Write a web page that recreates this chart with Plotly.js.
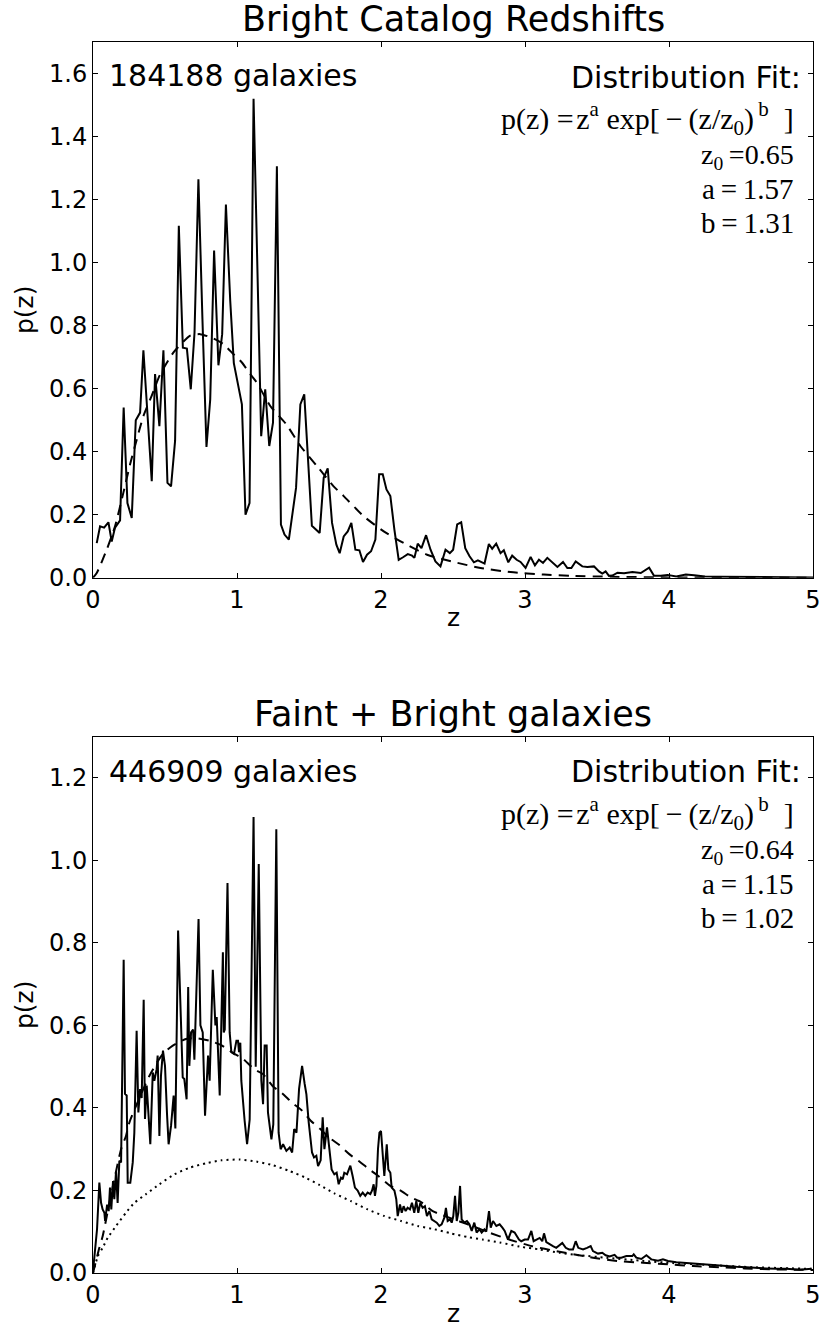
<!DOCTYPE html>
<html>
<head>
<meta charset="utf-8">
<script src="https://cdn.plot.ly/plotly-3.0.1.min.js"></script>
<style>html,body{margin:0;padding:0;background:#fff;}#chart{width:822px;height:1329px;}</style>
</head>
<body>
<div id="chart"></div>
<script>
// ---------- Top panel: Bright catalog ----------
const brightZ = [0.026,0.049,0.077,0.107,0.13,0.153,0.188,0.213,0.239,0.269,0.297,0.327,0.35,0.378,0.408,0.431,0.461,0.489,0.517,0.542,0.57,0.596,0.624,0.652,0.679,0.705,0.732,0.76,0.788,0.814,0.841,0.871,0.897,0.923,0.953,0.978,1.034,1.059,1.087,1.115,1.168,1.196,1.224,1.25,1.277,1.305,1.33,1.36,1.41,1.44,1.467,1.52,1.574,1.602,1.63,1.66,1.69,1.713,1.741,1.769,1.794,1.822,1.85,1.875,1.903,1.931,1.961,1.987,2.012,2.038,2.065,2.093,2.123,2.153,2.186,2.216,2.232,2.255,2.281,2.313,2.344,2.378,2.413,2.448,2.478,2.501,2.529,2.557,2.585,2.615,2.645,2.673,2.703,2.719,2.749,2.772,2.8,2.83,2.853,2.884,2.911,2.942,2.969,3.004,3.039,3.069,3.097,3.125,3.155,3.19,3.225,3.264,3.294,3.322,3.352,3.398,3.433,3.479,3.514,3.537,3.56,3.583,3.607,3.642,3.688,3.746,3.804,3.862,3.896,3.943,3.99,4.05,4.117,4.175,4.25,4.35,4.5,4.7,4.9,5.0];
const brightP = [0.11,0.163,0.159,0.176,0.115,0.159,0.182,0.54,0.237,0.19,0.5,0.524,0.722,0.503,0.306,0.646,0.481,0.722,0.301,0.29,0.434,1.117,0.73,0.727,0.598,0.778,1.264,0.82,0.415,0.566,1.038,0.674,0.773,1.184,0.879,0.681,0.55,0.2,0.237,1.52,0.449,0.598,0.418,0.492,1.306,0.169,0.137,0.121,0.285,0.55,0.582,0.165,0.142,0.317,0.347,0.174,0.105,0.078,0.131,0.147,0.174,0.089,0.087,0.05,0.073,0.084,0.121,0.328,0.328,0.28,0.259,0.153,0.057,0.065,0.075,0.07,0.063,0.108,0.094,0.135,0.089,0.052,0.036,0.089,0.078,0.089,0.169,0.176,0.094,0.068,0.049,0.055,0.05,0.045,0.107,0.092,0.108,0.078,0.087,0.049,0.07,0.057,0.05,0.031,0.066,0.039,0.057,0.047,0.063,0.047,0.034,0.05,0.031,0.031,0.052,0.036,0.034,0.036,0.02,0.013,0.02,0.006,0.007,0.016,0.014,0.018,0.015,0.032,0.006,0.006,0.009,0.004,0.01,0.008,0.004,0.003,0.002,0.002,0.001,0.001];
const brightFitZ = [0.0,0.026,0.095,0.153,0.211,0.257,0.304,0.35,0.408,0.466,0.559,0.675,0.744,0.837,0.906,0.976,1.034,1.092,1.138,1.231,1.342,1.44,1.556,1.671,1.741,1.88,2.019,2.158,2.32,2.506,2.691,2.9,3.131,3.317,3.6,4.0,4.5,5.0];
const brightFitP = [0.0,0.015,0.089,0.163,0.27,0.359,0.439,0.513,0.578,0.645,0.715,0.768,0.773,0.759,0.741,0.709,0.683,0.646,0.619,0.545,0.487,0.418,0.354,0.29,0.259,0.195,0.147,0.11,0.073,0.05,0.031,0.018,0.01,0.006,0.003,0.001,0.0005,0.0];

// ---------- Bottom panel: Faint + Bright ----------
const allZ = [0.0,0.014,0.028,0.044,0.056,0.067,0.079,0.084,0.098,0.109,0.118,0.127,0.139,0.148,0.16,0.171,0.183,0.195,0.213,0.222,0.234,0.241,0.259,0.276,0.287,0.303,0.315,0.327,0.338,0.352,0.361,0.373,0.384,0.398,0.415,0.426,0.442,0.449,0.461,0.472,0.486,0.5,0.514,0.525,0.542,0.56,0.572,0.591,0.623,0.634,0.65,0.661,0.669,0.681,0.695,0.704,0.733,0.746,0.762,0.778,0.799,0.81,0.832,0.85,0.859,0.88,0.902,0.908,0.915,0.934,0.949,0.961,0.979,0.996,1.007,1.014,1.023,1.03,1.053,1.07,1.088,1.115,1.13,1.151,1.169,1.181,1.192,1.206,1.215,1.239,1.252,1.273,1.289,1.303,1.32,1.343,1.366,1.383,1.397,1.413,1.431,1.452,1.47,1.482,1.498,1.521,1.535,1.551,1.563,1.581,1.595,1.607,1.625,1.641,1.657,1.676,1.692,1.706,1.722,1.734,1.745,1.764,1.787,1.803,1.819,1.838,1.856,1.873,1.891,1.907,1.926,1.938,1.949,1.958,1.968,1.979,1.989,2.0,2.012,2.023,2.04,2.051,2.065,2.074,2.093,2.106,2.116,2.132,2.144,2.157,2.171,2.185,2.201,2.215,2.231,2.245,2.259,2.273,2.289,2.305,2.319,2.336,2.352,2.37,2.387,2.405,2.421,2.44,2.451,2.463,2.479,2.491,2.502,2.514,2.526,2.537,2.549,2.56,2.579,2.597,2.614,2.63,2.648,2.664,2.683,2.699,2.718,2.731,2.75,2.762,2.778,2.801,2.824,2.843,2.859,2.882,2.905,2.928,2.944,2.958,2.974,2.998,3.021,3.044,3.06,3.079,3.102,3.12,3.132,3.148,3.171,3.194,3.217,3.241,3.259,3.283,3.306,3.333,3.352,3.37,3.403,3.431,3.456,3.472,3.507,3.537,3.56,3.588,3.622,3.641,3.669,3.704,3.745,3.755,3.773,3.808,3.843,3.877,3.924,3.958,3.993,4.051,4.121,4.19,4.259,4.329,4.398,4.468,4.537,4.607,4.676,4.746,4.815,4.908,4.99];
const allP = [0.004,0.065,0.106,0.219,0.17,0.154,0.146,0.126,0.166,0.15,0.207,0.154,0.223,0.179,0.247,0.17,0.272,0.268,0.759,0.434,0.43,0.219,0.219,0.268,0.34,0.587,0.389,0.446,0.424,0.662,0.373,0.454,0.397,0.312,0.486,0.466,0.494,0.527,0.332,0.478,0.539,0.502,0.385,0.312,0.357,0.43,0.35,0.83,0.474,0.47,0.421,0.693,0.502,0.583,0.59,0.517,0.858,0.6,0.583,0.381,0.527,0.466,0.735,0.6,0.62,0.43,0.777,0.583,0.59,0.945,0.583,0.535,0.531,0.563,0.563,0.535,0.558,0.466,0.369,0.312,0.372,1.105,0.5,0.991,0.466,0.409,0.551,0.551,0.389,0.324,0.36,1.075,0.34,0.3,0.312,0.296,0.304,0.292,0.349,0.34,0.446,0.502,0.458,0.433,0.365,0.292,0.28,0.284,0.259,0.273,0.377,0.3,0.353,0.308,0.251,0.239,0.243,0.215,0.231,0.227,0.243,0.239,0.26,0.235,0.207,0.2,0.187,0.195,0.187,0.195,0.191,0.2,0.215,0.187,0.211,0.3,0.34,0.344,0.288,0.235,0.312,0.251,0.243,0.207,0.2,0.179,0.138,0.166,0.146,0.162,0.15,0.158,0.154,0.17,0.146,0.174,0.146,0.17,0.158,0.162,0.138,0.15,0.13,0.126,0.122,0.114,0.118,0.134,0.158,0.126,0.13,0.122,0.138,0.187,0.126,0.146,0.211,0.13,0.122,0.126,0.118,0.102,0.122,0.098,0.106,0.098,0.106,0.1,0.15,0.11,0.126,0.114,0.118,0.11,0.102,0.081,0.102,0.098,0.089,0.081,0.077,0.081,0.081,0.102,0.077,0.081,0.085,0.077,0.096,0.075,0.069,0.065,0.061,0.069,0.073,0.061,0.057,0.057,0.077,0.061,0.057,0.061,0.065,0.053,0.047,0.049,0.043,0.04,0.044,0.037,0.037,0.041,0.041,0.045,0.037,0.034,0.043,0.033,0.03,0.033,0.029,0.026,0.024,0.023,0.02,0.019,0.016,0.015,0.014,0.012,0.011,0.01,0.01,0.008,0.01];
const allFitZ = [0.0,0.044,0.067,0.12,0.195,0.229,0.253,0.392,0.483,0.554,0.646,0.716,0.81,0.891,0.973,1.042,1.119,1.18,1.25,1.313,1.382,1.447,1.512,1.575,1.641,1.711,1.78,1.843,1.919,1.982,2.065,2.134,2.209,2.278,2.359,2.428,2.537,2.602,2.75,2.9,3.05,3.218,3.472,3.646,3.819,3.993,4.167,4.352,4.526,4.711,4.885,5.0];
const allFitP = [0.0,0.061,0.089,0.18,0.3,0.332,0.365,0.478,0.53,0.551,0.567,0.569,0.563,0.552,0.533,0.519,0.494,0.482,0.452,0.436,0.413,0.395,0.369,0.35,0.328,0.31,0.288,0.272,0.251,0.235,0.211,0.2,0.183,0.172,0.15,0.14,0.126,0.118,0.098,0.08,0.065,0.053,0.037,0.029,0.025,0.021,0.017,0.014,0.011,0.009,0.008,0.007];
const brightPartZ = [0.0,0.034,0.067,0.102,0.16,0.229,0.287,0.368,0.461,0.565,0.669,0.785,0.891,1.019,1.135,1.25,1.366,1.47,1.575,1.676,1.792,1.907,2.023,2.139,2.255,2.37,2.486,2.602,2.706,2.824,2.963,3.102,3.241,3.38,3.565,3.796,4.028,4.306,4.584,4.99];
const brightPartP = [0.0,0.041,0.061,0.085,0.114,0.146,0.17,0.191,0.215,0.239,0.255,0.266,0.273,0.275,0.27,0.261,0.247,0.232,0.213,0.193,0.174,0.154,0.138,0.126,0.114,0.106,0.096,0.087,0.081,0.074,0.064,0.057,0.049,0.043,0.037,0.03,0.024,0.019,0.014,0.01];

// ---------- Texts ----------
const titles = ["Bright Catalog Redshifts", "Faint + Bright galaxies"];
const counts = ["184188 galaxies", "446909 galaxies"];
const fitHeader = "Distribution Fit:";
const fitFormula = "p(z) =\u200az<sup>a</sup> exp[\u2009\u2212\u2009(z/z<sub>0</sub>)<sup>\u2009b</sup>\u2002]";
const fitZ0 = ["0.65", "0.64"];
const fitA = ["1.57", "1.15"];
const fitB = ["1.31", "1.02"];
const xTitle = "z";
const yTitle = "p(z)";

const black = "#000";
const sans = "DejaVu Sans";
const serif = "Liberation Serif";

const traces = [
  {x: brightZ, y: brightP, xaxis: "x", yaxis: "y", mode: "lines", line: {color: black, width: 2}},
  {x: brightFitZ, y: brightFitP, xaxis: "x", yaxis: "y", mode: "lines", line: {color: black, width: 2, dash: "10px,7px", shape: "spline", smoothing: 0.6}},
  {x: allZ, y: allP, xaxis: "x2", yaxis: "y2", mode: "lines", line: {color: black, width: 2}},
  {x: allFitZ, y: allFitP, xaxis: "x2", yaxis: "y2", mode: "lines", line: {color: black, width: 2, dash: "10px,7px", shape: "spline", smoothing: 0.6}},
  {x: brightPartZ, y: brightPartP, xaxis: "x2", yaxis: "y2", mode: "lines", line: {color: black, width: 2, dash: "2px,4px", shape: "spline", smoothing: 0.6}}
];

function axisStyle(extra) {
  return Object.assign({
    showline: true, linecolor: black, linewidth: 1, mirror: "ticks",
    ticks: "inside", ticklen: 5, tickwidth: 1, tickcolor: black,
    showgrid: false, zeroline: false,
    tickfont: {family: sans, size: 24, color: black}
  }, extra);
}

const annotations = [];
const panels = [{xr: "x domain", yr: "y domain"}, {xr: "x2 domain", yr: "y2 domain"}];
const rowsY = [[0.938, 0.933, 0.857, 0.786, 0.725, 0.662], [0.935, 0.935, 0.857, 0.786, 0.725, 0.661]];
panels.forEach((pn, i) => {
  const ry = rowsY[i];
  annotations.push({xref: pn.xr, yref: pn.yr, x: 0.5, y: 1, xanchor: "center", yanchor: "bottom", yshift: 1,
    text: titles[i], showarrow: false, font: {family: sans, size: 35, color: black}});
  annotations.push({xref: pn.xr, yref: pn.yr, x: 0.5, y: 0, xanchor: "center", yanchor: "middle", yshift: -40,
    text: xTitle, showarrow: false, font: {family: sans, size: 25, color: black}});
  annotations.push({xref: pn.xr, yref: pn.yr, x: 0.02, y: ry[0], xanchor: "left", yanchor: "middle",
    text: counts[i], showarrow: false, font: {family: sans, size: 30, color: black}});
  annotations.push({xref: pn.xr, yref: pn.yr, x: 0.986, y: ry[1], xanchor: "right", yanchor: "middle",
    text: fitHeader, showarrow: false, font: {family: sans, size: 30, color: black}});
  annotations.push({xref: pn.xr, yref: pn.yr, x: 0.977, y: ry[2], xanchor: "right", yanchor: "middle",
    text: fitFormula, showarrow: false, font: {family: serif, size: 30, color: black}});
  annotations.push({xref: pn.xr, yref: pn.yr, x: 0.977, y: ry[3], xanchor: "right", yanchor: "middle",
    text: "z<sub>0</sub>\u2009=" + fitZ0[i], showarrow: false, font: {family: serif, size: 28, color: black}});
  annotations.push({xref: pn.xr, yref: pn.yr, x: 0.977, y: ry[4], xanchor: "right", yanchor: "middle",
    text: "a\u2009=\u2009" + fitA[i], showarrow: false, font: {family: serif, size: 29, color: black}});
  annotations.push({xref: pn.xr, yref: pn.yr, x: 0.977, y: ry[5], xanchor: "right", yanchor: "middle",
    text: "b\u2009=\u2009" + fitB[i], showarrow: false, font: {family: serif, size: 29, color: black}});
});

const layout = {
  width: 822, height: 1329,
  margin: {l: 93, r: 9, t: 42, b: 56},
  paper_bgcolor: "#fff", plot_bgcolor: "#fff",
  showlegend: false,
  font: {family: sans, color: black},
  xaxis: axisStyle({range: [0, 5], dtick: 1, tick0: 0, domain: [0, 1], anchor: "y"}),
  yaxis: axisStyle({range: [0, 1.7], dtick: 0.2, tick0: 0, tickformat: ".1f", domain: [0.5648, 1], anchor: "x",
    title: {text: yTitle, font: {family: sans, size: 25, color: black}}}),
  xaxis2: axisStyle({range: [0, 5], dtick: 1, tick0: 0, domain: [0, 1], anchor: "y2"}),
  yaxis2: axisStyle({range: [0, 1.3], dtick: 0.2, tick0: 0, tickformat: ".1f", domain: [0, 0.4358], anchor: "x2",
    title: {text: yTitle, font: {family: sans, size: 25, color: black}}}),
  annotations: annotations
};

Plotly.newPlot("chart", traces, layout, {staticPlot: true, displayModeBar: false});
</script>
</body>
</html>
